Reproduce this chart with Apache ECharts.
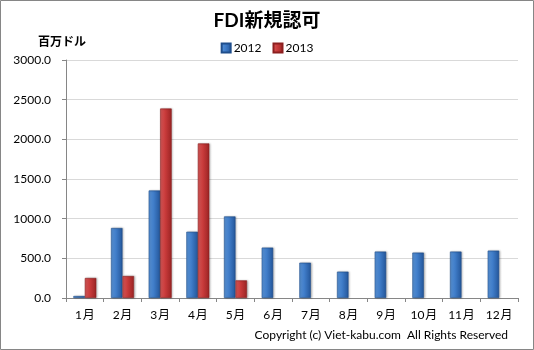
<!DOCTYPE html>
<html><head><meta charset="utf-8">
<script src="https://cdn.jsdelivr.net/npm/echarts@6/dist/echarts.min.js"></script>
<style>html,body{margin:0;padding:0;background:#fff}#c{width:534px;height:350px}</style>
</head><body><div id="c"></div>
<script>
var categories = ['1月','2月','3月','4月','5月','6月','7月','8月','9月','10月','11月','12月'];
var seriesNames = ['2012','2013'];
var values2012 = [25, 882, 1355, 835, 1028, 635, 445, 332, 585, 572, 585, 597];
var values2013 = [252, 277, 2388, 1948, 222, null, null, null, null, null, null, null];
var yTicks = [0, 500, 1000, 1500, 2000, 2500, 3000];

var FONT = 'Lato, "Noto Sans CJK JP", sans-serif';
function grad(c1, c2, c3) {
  return new echarts.graphic.LinearGradient(0, 0, 1, 0, [
    {offset: 0, color: c1}, {offset: 0.45, color: c2}, {offset: 1, color: c3}
  ]);
}
var blueFill = grad('#5b95d8', '#3f7cc8', '#24569a');
var redFill = grad('#d85a5a', '#c83a3a', '#9a2424');

var chart = echarts.init(document.getElementById('c'), null, {renderer: 'canvas'});
chart.setOption({
  animation: false,
  backgroundColor: '#fff',
  title: {
    text: 'FDI新規認可', left: 'center', top: 6,
    textStyle: {fontFamily: FONT, fontSize: 19, fontWeight: 'bold', color: '#000'}
  },
  legend: {
    data: seriesNames, top: 37, left: 'center', itemWidth: 9, itemHeight: 9, itemGap: 11,
    icon: 'rect',
    textStyle: {fontFamily: FONT, fontSize: 12, color: '#000', padding: [0,0,0,-2]}
  },
  grid: {left: 66, right: 16, top: 60, bottom: 52},
  xAxis: {
    type: 'category', data: categories,
    axisLine: {lineStyle: {color: '#868686'}},
    axisTick: {show: true, alignWithLabel: false, length: 4, lineStyle: {color: '#868686'}},
    axisLabel: {fontFamily: FONT, fontSize: 12, color: '#000', margin: 11,
      formatter: function (v) { return v.replace('月', '\u200A月'); }}
  },
  yAxis: {
    type: 'value', min: yTicks[0], max: yTicks[yTicks.length-1], interval: 500,
    name: '百万ドル', nameLocation: 'end', nameGap: 12,
    nameTextStyle: {fontFamily: FONT, fontSize: 12, fontWeight: 'bold', color: '#000', align: 'center', padding: [0, 8, 0, 0]},
    axisLine: {show: true, lineStyle: {color: '#868686'}},
    axisTick: {show: true, length: 4, lineStyle: {color: '#868686'}},
    splitLine: {lineStyle: {color: '#d9d9d9'}},
    axisLabel: {fontFamily: FONT, fontSize: 12, color: '#000', margin: 15,
      formatter: function (v) { return v.toFixed(1); }}
  },
  series: [
    {name: seriesNames[0], type: 'bar', data: values2012, barGap: '0%', barCategoryGap: '39%',
     itemStyle: {color: blueFill, borderColor: '#1f4e8c', borderWidth: 0.6,
       shadowColor: 'rgba(0,0,0,0.25)', shadowBlur: 2, shadowOffsetX: 1, shadowOffsetY: 0}},
    {name: seriesNames[1], type: 'bar', data: values2013,
     itemStyle: {color: redFill, borderColor: '#8c1f1f', borderWidth: 0.6,
       shadowColor: 'rgba(0,0,0,0.25)', shadowBlur: 2, shadowOffsetX: 1, shadowOffsetY: 0}}
  ],
  graphic: [
    {type: 'rect', shape: {x: 0.5, y: 0.5, width: 533, height: 349}, style: {fill: 'none', stroke: '#868686', lineWidth: 1}, silent: true},
    {type: 'text', right: 26, top: 329, style: {text: 'Copyright (c) Viet-kabu.com  All Rights Reserved', font: '12px ' + FONT, fill: '#000'}}
  ]
});
</script></body></html>
